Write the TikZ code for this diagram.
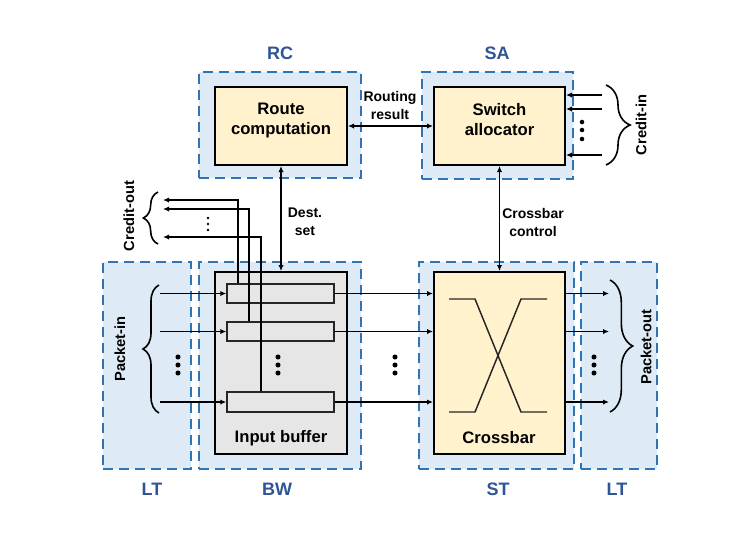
\documentclass[tikz,border=0pt]{standalone}
\usepackage{fontspec}
\setmainfont{Liberation Sans}
\usetikzlibrary{arrows.meta,decorations.pathreplacing,fit}
\definecolor{regfill}{HTML}{DEEBF7}
\definecolor{regline}{HTML}{2E75B6}
\definecolor{labblue}{HTML}{2F5597}
\definecolor{yel}{HTML}{FFF2CC}
\definecolor{gry}{HTML}{E7E6E6}
\begin{document}
\begin{tikzpicture}[x=0.75pt,y=-0.75pt,
  region/.style={draw=regline, fill=regfill, line width=2.1pt, dash pattern=on 7.5pt off 4.5pt, inner sep=0pt},
  stage/.style={text=labblue, font=\bfseries\fontsize{13.5}{16}\selectfont},
  box/.style={draw=black, line width=1.5pt, inner sep=0pt, align=center, font=\bfseries\fontsize{12.5}{15}\selectfont},
  boxlab/.style={font=\bfseries\fontsize{12.5}{15}\selectfont},
  slot/.style={draw=black!85, line width=1.1pt, fill=gry, inner sep=0pt},
  arr/.style={line width=1.2pt, -{Latex[length=4.5pt,width=4pt]}},
  darr/.style={line width=1.2pt, {Latex[length=4.5pt,width=4pt]}-{Latex[length=4.5pt,width=4pt]}},
  small/.style={font=\bfseries\fontsize{10.5}{13.5}\selectfont, align=center},
  rot/.style={font=\bfseries\fontsize{11}{13}\selectfont, rotate=90},
  brc/.style={decorate, decoration={brace, amplitude=#1}, line width=1.2pt},
  xline/.style={line width=1.1pt, draw=black!85}
]
\useasboundingbox (0,0) rectangle (737,540);

% regions
\node[region, fit={(199,72)(361,178)}] (rcr) {};
\node[region, fit={(422,72)(573,179)}] (sar) {};
\node[region, fit={(103,262)(191,469)}] (ltl) {};
\node[region, fit={(199,262)(361,469)}] (bwr) {};
\node[region, fit={(419,262)(574,469)}] (str) {};
\node[region, fit={(581,262)(657,469)}] (ltr) {};

% stage labels
\node[stage] (lrc) at (280,53) {RC};
\node[stage] (lsa) at (497,53) {SA};
\node[stage] (llt1) at (152,489) {LT};
\node[stage] (lbw) at (277,489) {BW};
\node[stage] (lst) at (498,489) {ST};
\node[stage] (llt2) at (617,489) {LT};

% main boxes
\node[box, fill=yel, fit={(215,87)(347,165)}] (rc) {Route\\computation};
\node[box, fill=yel, fit={(434,87)(565,165)}] (sa) {Switch\\allocator};
\node[box, fill=gry, fit={(215,272)(347,454)}] (ib) {};
\node[boxlab] (ibl) at (281,438) {Input buffer};
\node[box, fill=yel, fit={(434,272)(565,454)}] (xb) {};
\node[boxlab] (xbl) at (499,438) {Crossbar};

% buffer slots
\node[slot, fit={(227,284)(334,303)}] (s1) {};
\node[slot, fit={(227,322)(334,341)}] (s2) {};
\node[slot, fit={(227,392)(334,412)}] (s3) {};

% crossbar symbol
\draw[xline] (449,299) -- (475,299) -- (521,412) -- (547,412);
\draw[xline] (449,412) -- (475,412) -- (521,299) -- (547,299);

% packet in / out
\coordinate (pin) at (160,0);
\coordinate (pout) at (609,0);
\foreach \s in {s1,s2,s3}{
  \draw[arr] (pin |- \s.west) -- (\s.west);
  \draw[arr] (\s.east) -- (\s.east -| xb.west);
  \draw[arr] (xb.east |- \s.east) -- (pout |- \s.east);
}

% credit out
\coordinate (cout) at (163,0);
\coordinate (c1) at (238,200);
\coordinate (c2) at (249,209);
\coordinate (c3) at (261,237);
\draw[arr] (s1.north -| c1) -- (c1) -- (cout |- c1);
\draw[arr] (s2.north -| c2) -- (c2) -- (cout |- c2);
\draw[arr] (s3.north -| c3) -- (c3) -- (cout |- c3);

% credit in
\coordinate (k1) at (602,95);
\coordinate (k2) at (602,109);
\coordinate (k3) at (602,155);
\draw[arr] (k1) -- (k1 -| sa.east);
\draw[arr] (k2) -- (k2 -| sa.east);
\draw[arr] (k3) -- (k3 -| sa.east);

% control connections
\draw[darr] (rc.east) -- (sa.west);
\draw[darr] (rc.south) -- (ib.north);
\draw[darr] (sa.south) -- (xb.north);

\node[small] (trr) at (390,105) {Routing\\result};
\node[small] (tds) at (305,222) {Dest.\\set};
\node[small] (tcc) at (533,222) {Crossbar\\control};

% braces
\draw[brc=12pt] (159,413) -- (159,285);
\draw[brc=11pt] (158,244) -- (158,192);
\draw[brc=17pt] (610,280) -- (610,412);
\draw[brc=18pt] (606,85) -- (606,165);

\node[rot] (tpi) at (120,349) {Packet-in};
\node[rot] (tco) at (129,216) {Credit-out};
\node[rot] (tpo) at (646,347) {Packet-out};
\node[rot] (tci) at (641,125) {Credit-in};

% dots
\foreach \x in {178,278,395,594}{
  \foreach \y in {357,365,373} \fill (\x,\y) circle (1.9pt);
}
\foreach \y in {122,130,139} \fill (582,\y) circle (1.7pt);
\foreach \y in {218,224,230} \fill (208,\y) circle (1.0pt);
\end{tikzpicture}
\end{document}
